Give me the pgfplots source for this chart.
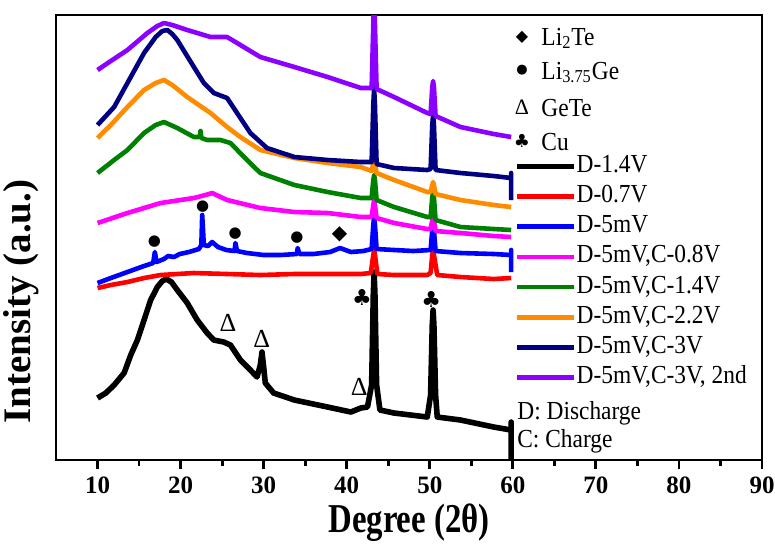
\documentclass[border=0pt]{standalone}
\usepackage{pgfplots}
\pgfplotsset{compat=1.18}
\usepackage{fontspec}
\setmainfont{Liberation Serif}
\newfontfamily\cfont{Liberation Serif}[FakeStretch=0.8]
\newfontfamily\legfont{Liberation Serif}[FakeStretch=0.9]
\newfontfamily\symfont{DejaVu Sans}

\definecolor{cred}{RGB}{255,0,0}
\definecolor{cblue}{RGB}{0,0,255}
\definecolor{cmag}{RGB}{255,0,255}
\definecolor{cgreen}{RGB}{0,128,0}
\definecolor{corange}{RGB}{255,140,0}
\definecolor{cnavy}{RGB}{0,0,128}
\definecolor{cpurple}{RGB}{139,0,255}

\begin{document}
\begin{tikzpicture}
\begin{axis}[
name=ax,
scale only axis,
width=353pt, height=222.5pt,
xmin=5, xmax=90,
ymin=5, ymax=450,
xtick={10,20,30,40,50,60,70,80,90},
minor x tick num=1,
ytick=\empty,
tick pos=left,
tick align=outside,
major tick length=4.5pt,
minor tick length=2.8pt,
every tick/.style={line width=1.4pt, black},
axis line style={line width=1.3pt},
/pgf/number format/assume math mode=true,
xticklabel style={font=\bfseries\fontsize{12.5}{12.5}\selectfont, inner sep=0pt, yshift=-3.5pt},
xlabel={Degree (2θ)},
xlabel style={font=\cfont\bfseries\fontsize{20.5}{20.5}\selectfont, inner sep=0pt, at={(axis description cs:0.5,-0.097)}, anchor=north},
ylabel={Intensity (a.u.)},
ylabel style={font=\bfseries\fontsize{19.5}{19.5}\selectfont, inner sep=0pt, at={(axis description cs:-0.023,0.356)}, anchor=south},
every axis plot/.append style={line width=2.3pt, line join=round},
legend style={at={(axis cs:60.1,313)}, anchor=north west, draw=none, fill=none,
  inner sep=0pt, row sep=1.2pt, column sep=0pt,
  font=\legfont\fontsize{13}{13}\selectfont,
  nodes={inner sep=0pt, text height=9.9pt, text depth=4pt},
  legend cell align=left},
legend image code/.code={\draw[#1] (0pt,0pt) -- (28.5pt,0pt);},
]
% D-1.4V
\addplot[black, line width=2.8pt] coordinates {
(10,67) (11.0,72) (12.0,80) (13.2,92) (14.0,110) (14.8,125) (15.6,145) (16.4,165)
(17.2,178) (17.8,184) (18.3,186) (18.9,183) (19.6,175) (20.8,162) (22.0,145)
(23.2,132) (24.0,125) (25.2,123) (26.0,120) (27.2,105) (28.4,95) (29.2,88)
(29.6,100) (29.8,113) (30.0,98) (30.2,82) (31.2,72) (33.7,65) (37.7,58) (40.5,53)
(41.7,57) (42.5,58) (43.0,80) (43.2,170) (43.3,193) (43.4,170) (43.6,80) (44.0,55)
(45.7,52) (49.7,48) (50.1,70) (50.3,140) (50.4,155) (50.5,140) (50.7,70) (50.9,48)
(53.7,45) (57.7,38) (59.8,35) (59.8,43) (59.8,3)
};
% D-0.7V
\addplot[cred] coordinates {
(10,177) (11.6,180) (13.6,183) (15.6,187) (17.6,190) (21.6,192) (25.6,191)
(29.6,190) (33.7,191) (37.7,191) (41.7,191) (42.9,192) (43.2,210) (43.3,215)
(43.4,210) (43.7,191) (45.7,190) (49.7,190) (50.1,192) (50.3,210) (50.4,215)
(50.5,210) (50.9,190) (53.7,188) (57.7,186) (59.8,187)
};
% D-5mV
\addplot[cblue] coordinates {
(10,182) (11.6,187) (13.6,193) (15.6,199) (16.7,202) (16.9,213) (17.1,203) (18.0,206)
(18.5,209) (19.2,208) (19.9,211) (21.0,213) (22.2,216) (22.5,220) (22.6,250)
(22.8,220) (23.3,219) (23.8,223) (24.5,218) (25.5,215) (26.5,214) (26.6,222)
(26.8,214) (28.0,212) (30.0,210) (32.0,210) (34.0,211) (34.1,217) (34.3,211)
(36.0,211) (38.0,213) (39.2,217) (40.5,213) (42.0,214) (43.0,216) (43.2,240)
(43.3,248) (43.4,240) (43.6,216) (45.7,215) (48.0,214) (50.1,215) (50.3,235)
(50.4,240) (50.5,235) (50.7,214) (53.7,212) (57.7,211) (59.8,210) (59.8,215) (59.8,193)
};
% D-5mV,C-0.8V
\addplot[cmag] coordinates {
(10,242) (13.6,252) (17.6,262) (21.6,267) (23.0,270) (23.8,272) (25.6,265)
(29.6,257) (33.7,253) (37.7,252) (41.7,248) (43.0,248) (43.2,260) (43.3,265)
(43.4,260) (43.6,247) (45.7,242) (49.7,236) (50.1,236) (50.3,245) (50.4,248)
(50.5,245) (50.7,234) (53.7,232) (57.7,229) (59.8,228)
};
% D-5mV,C-1.4V
\addplot[cgreen] coordinates {
(10,292) (12.0,305) (13.6,315) (15.6,332) (17.0,340) (18.0,343) (19.6,337) (21.6,328)
(22.3,328) (22.4,334) (22.5,327) (23.2,325) (24.8,325) (26.0,322) (28.0,305)
(29.6,292) (33.7,280) (37.7,273) (41.7,267) (43.0,267) (43.2,285) (43.3,290)
(43.4,285) (43.6,265) (45.7,258) (49.7,248) (50.1,248) (50.3,268) (50.4,272)
(50.5,268) (50.7,245) (53.7,238) (57.7,236) (59.8,235)
};
% D-5mV,C-2.2V
\addplot[corange] coordinates {
(10,327) (11.6,340) (13.6,358) (15.6,375) (17.0,382) (18.0,385) (19.0,380)
(20.8,368) (23.6,352) (25.6,338) (27.2,328) (29.6,315) (33.7,307) (37.7,302)
(41.7,298) (43.0,294) (43.2,302) (43.3,305) (43.4,302) (43.6,292) (45.7,285)
(49.7,273) (50.1,273) (50.3,280) (50.4,283) (50.5,280) (50.7,271) (53.7,265)
(57.7,260) (59.8,258)
};
% D-5mV,C-3V
\addplot[cnavy] coordinates {
(10,340) (12.0,358) (13.6,382) (15.6,412) (17.0,428) (17.8,434) (18.4,435) (19.0,431)
(19.6,425) (21.6,398) (22.8,382) (24.0,372) (25.6,367) (26.8,352) (28.4,332) (30.4,317)
(33.7,308) (37.7,305) (41.7,303) (43.0,303) (43.2,360) (43.3,377) (43.4,360)
(43.6,301) (45.7,297) (49.7,295) (50.1,296) (50.3,340) (50.4,350) (50.5,340)
(50.7,295) (53.7,292) (57.7,289) (59.8,287) (59.8,292) (59.8,265)
};
% D-5mV,C-3V, 2nd
\addplot[cpurple] coordinates {
(10,395) (11.6,404) (13.6,415) (16.0,432) (17.2,439) (18.0,442) (19.0,440) (20.8,435) (23.6,428)
(25.6,428) (27.6,418) (29.6,408) (33.7,398) (37.7,388) (41.7,377) (43.0,377)
(43.2,440) (43.3,470) (43.4,440) (43.6,376) (45.7,368) (49.7,352) (50.1,351)
(50.3,378) (50.4,384) (50.5,378) (50.7,349) (53.7,338) (57.7,331) (59.8,328)
};
\legend{D-1.4V,D-0.7V,D-5mV,{D-5mV,C-0.8V},{D-5mV,C-1.4V},{D-5mV,C-2.2V},{D-5mV,C-3V},{D-5mV,C-3V, 2nd}}

% phase markers on the curves
\node[font=\symfont\fontsize{7.5}{7.5}\selectfont] at (axis cs:16.84,223) {●};
\node[font=\symfont\fontsize{7.5}{7.5}\selectfont] at (axis cs:22.67,258) {●};
\node[font=\symfont\fontsize{7.5}{7.5}\selectfont] at (axis cs:26.57,231) {●};
\node[font=\symfont\fontsize{7.5}{7.5}\selectfont] at (axis cs:34.0,227) {●};
\node[font=\symfont\fontsize{10}{10}\selectfont] at (axis cs:39.13,231) {◆};
\node[font=\symfont\fontsize{11}{11}\selectfont] at (axis cs:41.83,168) {♣};
\node[font=\symfont\fontsize{11}{11}\selectfont] at (axis cs:50.18,166) {♣};
\node[font=\fontsize{13}{13}\selectfont] at (axis cs:25.7,142) {Δ};
\node[font=\fontsize{13}{13}\selectfont] at (axis cs:29.78,126) {Δ};
\node[font=\fontsize{13}{13}\selectfont] at (axis cs:41.5,78) {Δ};

% symbol key
\node[font=\symfont\fontsize{8}{8}\selectfont] at (axis cs:61.1,428) {◆};
\node[font=\symfont\fontsize{6.5}{6.5}\selectfont] at (axis cs:61.1,395) {●};
\node[font=\fontsize{11}{11}\selectfont] at (axis cs:61.1,358) {Δ};
\node[font=\symfont\fontsize{9}{9}\selectfont] at (axis cs:61.1,324) {♣};
\begin{scope}[every node/.style={anchor=base west, inner sep=0pt, font=\legfont\fontsize{13}{13}\selectfont}]
\node at (axis cs:63.4,420) {Li\textsubscript{2}Te};
\node at (axis cs:63.4,386) {Li\textsubscript{3.75}Ge};
\node at (axis cs:63.4,349) {GeTe};
\node at (axis cs:63.4,315) {Cu};
\node at (axis cs:60.5,46) {D: Discharge};
\node at (axis cs:60.5,18) {C: Charge};
\end{scope}
\end{axis}
\pgfresetboundingbox
\path[use as bounding box] ([shift={(-28pt,-41.5pt)}]ax.south west) rectangle ([shift={(6.5pt,7.5pt)}]ax.north east);
\end{tikzpicture}
\end{document}
